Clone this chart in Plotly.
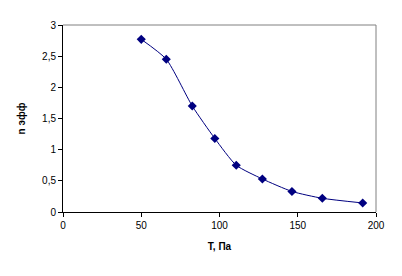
import plotly.graph_objects as go

tau = [50, 66, 82.6, 97, 110.7, 127.4, 146.3, 165.7, 191.5]
n_eff = [2.77, 2.45, 1.70, 1.18, 0.75, 0.53, 0.33, 0.22, 0.145]

fig = go.Figure()
fig.add_trace(go.Scatter(
    x=tau, y=n_eff, mode="lines+markers",
    line=dict(color="#000080", width=1, shape="spline", smoothing=0.6),
    marker=dict(symbol="diamond", size=7, color="#000080"),
    showlegend=False,
))

font = dict(family="Liberation Sans, Arial, sans-serif", size=10, color="black")
fig.update_layout(
    width=402, height=276,
    margin=dict(l=63, r=26, t=25, b=64),
    paper_bgcolor="white", plot_bgcolor="white",
    separators=", ",
    font=font,
    xaxis=dict(range=[0, 200], tickvals=[0, 50, 100, 150, 200],
               showgrid=False, zeroline=False, showline=True, linecolor="black", linewidth=1,
               ticks="outside", ticklen=4, tickcolor="black",
               title=dict(text="<b>T, Па</b>", font=font, standoff=12)),
    yaxis=dict(range=[0, 3], tickvals=[0, 0.5, 1, 1.5, 2, 2.5, 3],
               showgrid=False, zeroline=False, showline=True, linecolor="black", linewidth=1,
               ticks="outside", ticklen=4, tickcolor="black",
               title=dict(text="<b>n эфф</b>", font=font, standoff=14)),
    shapes=[
        dict(type="line", xref="paper", yref="paper", x0=0, x1=1, y0=1, y1=1,
             line=dict(color="#808080", width=1)),
        dict(type="line", xref="paper", yref="paper", x0=1, x1=1, y0=0, y1=1,
             line=dict(color="#808080", width=1)),
    ],
)

fig.write_html("out.html")
